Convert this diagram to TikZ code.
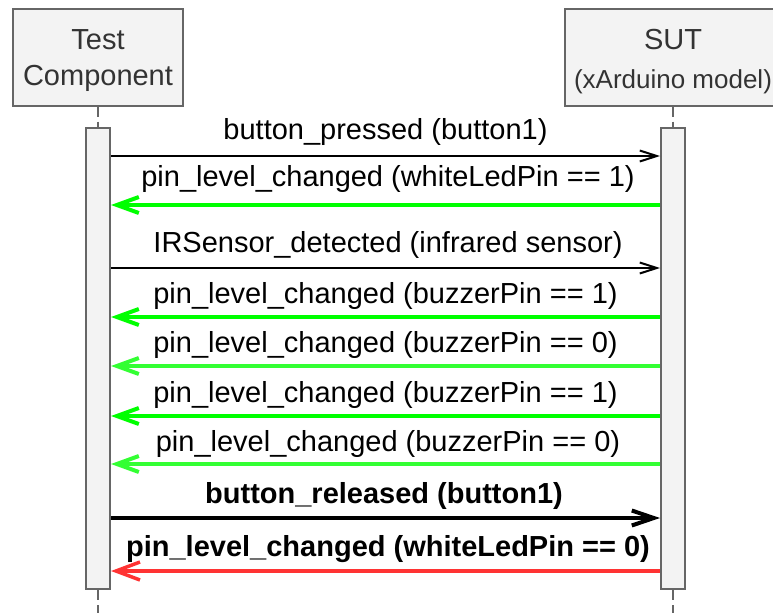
\documentclass[tikz,border=0pt]{standalone}
\usepackage{fontspec}
\setmainfont{Liberation Sans}
\usetikzlibrary{arrows.meta}
\definecolor{boxgray}{HTML}{F3F3F3}
\definecolor{edgegray}{HTML}{666666}
\definecolor{headtext}{HTML}{333333}
\definecolor{gA}{HTML}{00FF00}
\definecolor{gB}{HTML}{33FF33}
\definecolor{rA}{HTML}{FF3333}
\begin{document}
\begin{tikzpicture}[x=0.5pt,y=-0.5pt,
  lbl/.style={font=\fontsize{14.5pt}{17pt}\selectfont, anchor=base, inner sep=0pt},
  blbl/.style={font=\fontsize{14.5pt}{17pt}\selectfont\bfseries, anchor=base, inner sep=0pt},
  head/.style={draw=edgegray, line width=1pt, fill=boxgray, text=headtext, align=center, inner sep=0pt, minimum height=48.5pt},
  act/.style={draw=edgegray, line width=1pt, fill=boxgray, minimum width=12pt, minimum height=230.5pt, inner sep=0pt},
  life/.style={draw=edgegray, line width=0.8pt, dash pattern=on 5pt off 2.5pt},
  thinarr/.style={draw=black, line width=1pt, -{Straight Barb[length=8.5pt,width=5.5pt]}},
  garr/.style={line width=2pt, -{Straight Barb[length=11pt,width=8pt]}},
  boldarr/.style={draw=black, line width=2pt, -{Straight Barb[length=11pt,width=7.5pt]}},
  redarr/.style={draw=rA, line width=1.75pt, -{Straight Barb[length=12pt,width=9pt]}}
]
\useasboundingbox (0,0) rectangle (773,612);
\clip (0,0) rectangle (773,612);

% headers
\node[head, minimum width=85pt, font=\fontsize{14.5pt}{18pt}\selectfont] (tc) at (98,57) {\rule{0pt}{14pt}Test\\Component};
\node[head, minimum width=108pt, font=\fontsize{14.5pt}{19.5pt}\selectfont] (sut) at (673,57) {\rule{0pt}{14.8pt}SUT\\{\fontsize{13pt}{15pt}\selectfont (xArduino model)}};

% activations
\node[act] (al) at (98,358.5) {};
\node[act] (ar) at (673,358.5) {};

% lifelines
\coordinate (endL) at (98,625);
\coordinate (endR) at (673,625);
\draw[life] (tc.south) -- (al.north);
\draw[life] (sut.south) -- (ar.north);
\draw[life] (al.south) -- (endL);
\draw[life] (ar.south) -- (endR);

% message end points
\path (al.east |- 0,156) coordinate (l1) (ar.west |- 0,156) coordinate (r1);
\path (al.east |- 0,205) coordinate (l2) (ar.west |- 0,205) coordinate (r2);
\path (al.east |- 0,268) coordinate (l3) (ar.west |- 0,268) coordinate (r3);
\path (al.east |- 0,317) coordinate (l4) (ar.west |- 0,317) coordinate (r4);
\path (al.east |- 0,366) coordinate (l5) (ar.west |- 0,366) coordinate (r5);
\path (al.east |- 0,416) coordinate (l6) (ar.west |- 0,416) coordinate (r6);
\path (al.east |- 0,464) coordinate (l7) (ar.west |- 0,464) coordinate (r7);
\path (al.east |- 0,518) coordinate (l8) (ar.west |- 0,518) coordinate (r8);
\path (al.east |- 0,571) coordinate (l9) (ar.west |- 0,571) coordinate (r9);

% messages
\draw[thinarr] (l1) -- (r1);
\draw[garr, draw=gA] (r2) -- (l2);
\draw[thinarr] (l3) -- (r3);
\draw[garr, draw=gA] (r4) -- (l4);
\draw[garr, draw=gB] (r5) -- (l5);
\draw[garr, draw=gA] (r6) -- (l6);
\draw[garr, draw=gB] (r7) -- (l7);
\draw[boldarr] (l8) -- (r8);
\draw[redarr] (r9) -- (l9);

% labels
\node[lbl] (t1) at (385.5,139) {button\_pressed (button1)};
\node[lbl] (t2) at (388,186) {pin\_level\_changed (whiteLedPin == 1)};
\node[lbl] (t3) at (388,252) {IRSensor\_detected (infrared sensor)};
\node[lbl] (t4) at (385.5,303) {pin\_level\_changed (buzzerPin == 1)};
\node[lbl] (t5) at (385.5,352) {pin\_level\_changed (buzzerPin == 0)};
\node[lbl] (t6) at (385.5,402) {pin\_level\_changed (buzzerPin == 1)};
\node[lbl] (t7) at (388,451) {pin\_level\_changed (buzzerPin == 0)};
\node[blbl] (t8) at (384,503) {button\_released (button1)};
\node[blbl] (t9) at (388,556) {pin\_level\_changed (whiteLedPin == 0)};
\end{tikzpicture}
\end{document}
